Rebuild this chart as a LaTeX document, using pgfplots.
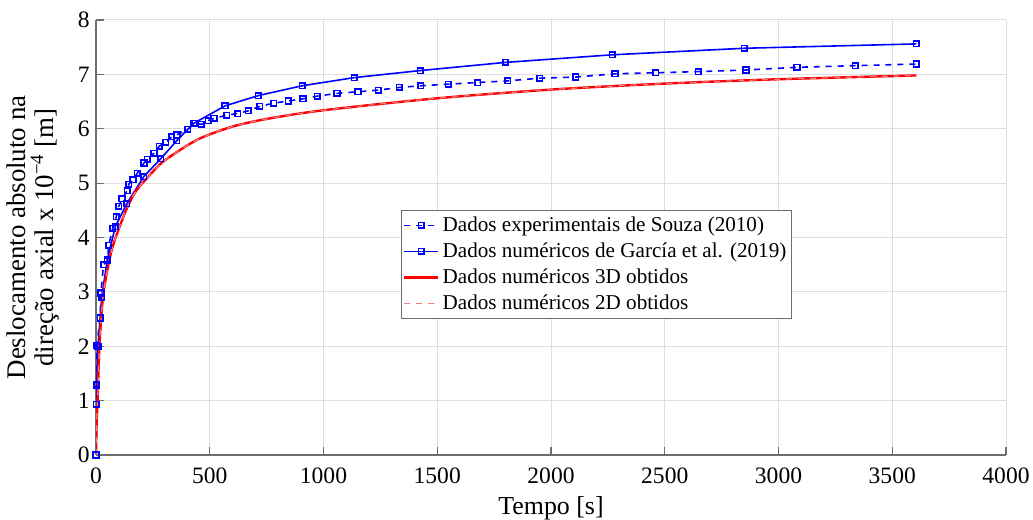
\documentclass[border=0pt]{standalone}
\usepackage{fontspec}
\setmainfont{Liberation Serif}
\usepackage{pgfplots}
\pgfplotsset{compat=1.18}
\definecolor{gridgray}{HTML}{DDDDDD}
\definecolor{axgray}{HTML}{6E6E6E}
\definecolor{pinkred}{HTML}{F08080}
\begin{document}
\begin{tikzpicture}
\begin{axis}[
  name=ax,
  scale only axis,
  width=455bp, height=217.5bp,
  xmin=0, xmax=4000, ymin=0, ymax=8,
  xtick={0,500,...,4000}, ytick={0,1,...,8},
  xticklabels={0,500,1000,1500,2000,2500,3000,3500,4000},
  yticklabels={0,1,2,3,4,5,6,7,8},
  axis lines=left,
  axis line style={axgray, line width=0.6pt, -},
  tick style={axgray, line width=0.6pt},
  tick align=inside,
  major tick length=4bp,
  grid=major,
  major grid style={gridgray, line width=0.5pt},
  tick label style={font=\fontsize{11.8}{13}\selectfont, black},
  xticklabel style={yshift=-2.8bp},
  yticklabel style={xshift=0.3bp},
  legend style={at={(0.335,0.563)}, anchor=north west, draw=axgray,
    font=\fontsize{10.6}{12}\selectfont, inner sep=1bp,
    nodes={inner sep=1.5bp, text height=7.8bp, text depth=2.2bp},
    fill=white},
  legend cell align=left,
]
\addplot[blue, dashed, line width=0.8pt, mark=square, mark size=1.4pt,
  mark options={solid, line width=0.8pt}] coordinates {
  (0,0) (1,0.93) (2,1.3) (4,2.02) (18,2.52) (22,2.98) (33,3.5) (50,3.57)
  (56,3.86) (74,4.17) (89,4.38) (100,4.57) (114,4.71) (137,4.86) (144,4.98)
  (163,5.06) (181,5.18) (211,5.37) (226,5.44) (255,5.55) (278,5.68)
  (307,5.75) (333,5.85) (356,5.89) (404,5.99) (434,6.10) (463,6.08)
  (493,6.15) (519,6.19) (574,6.25) (623,6.28) (670,6.33) (719,6.41)
  (781,6.47) (845,6.51) (910,6.55) (973,6.60) (1059,6.65) (1152,6.68)
  (1240,6.71) (1333,6.76) (1428,6.79) (1549,6.82) (1678,6.85) (1810,6.88)
  (1950,6.93) (2108,6.95) (2281,7.01) (2461,7.03) (2648,7.05) (2857,7.08)
  (3081,7.13) (3338,7.16) (3606,7.19)
};
\addlegendentry{Dados experimentais de Souza (2010)}
\addplot[blue, line width=0.8pt, mark=square, mark size=1.4pt,
  mark options={solid, line width=0.8pt}] coordinates {
  (0,0) (4,1.28) (9,2.0) (25,2.9) (50,3.6) (85,4.2) (135,4.62) (210,5.12)
  (285,5.45) (355,5.78) (430,6.1) (567,6.42) (714,6.61) (906,6.79)
  (1135,6.94) (1426,7.07) (1800,7.22) (2270,7.36) (2850,7.48) (3606,7.56)
};
\addlegendentry{Dados numéricos de García et al. (2019)}
\addplot[red, line width=1.2pt, smooth, tension=0.5] coordinates {
  (0,0) (3,0.6) (7,1.0) (15,2.0) (29,2.84) (44,3.27) (66,3.72) (88,4.02)
  (137,4.55) (175,4.85) (211,5.03) (285,5.36) (359,5.58) (420,5.74)
  (478,5.86) (600,6.04) (750,6.18) (1000,6.34) (1500,6.56) (2000,6.72)
  (2500,6.83) (3000,6.91) (3606,6.98)
};
\addlegendentry{Dados numéricos 3D obtidos}
\addplot[pinkred, dashed, line width=0.6pt, smooth, tension=0.5] coordinates {
  (0,0) (3,0.6) (7,1.0) (15,2.0) (29,2.84) (44,3.27) (66,3.72) (88,4.02)
  (137,4.55) (175,4.85) (211,5.03) (285,5.36) (359,5.58) (420,5.74)
  (478,5.86) (600,6.04) (750,6.18) (1000,6.34) (1500,6.56) (2000,6.72)
  (2500,6.83) (3000,6.91) (3606,6.98)
};
\addlegendentry{Dados numéricos 2D obtidos}
\end{axis}
\node[anchor=base, font=\fontsize{13}{14}\selectfont]
  at ([yshift=-30bp]ax.south) {Tempo [s]};
\node[rotate=90, anchor=center, align=center,
  font=\fontsize{13.5}{14}\selectfont]
  at ([xshift=-31.5bp]ax.west)
  {Deslocamento absoluto na\\direção axial x 10\textsuperscript{−4} [m]};
\pgfresetboundingbox
\path ([shift={(-48bp,-32.5bp)}]ax.south west)
  rectangle ([shift={(13.5bp,10bp)}]ax.north east);
\end{tikzpicture}
\end{document}
